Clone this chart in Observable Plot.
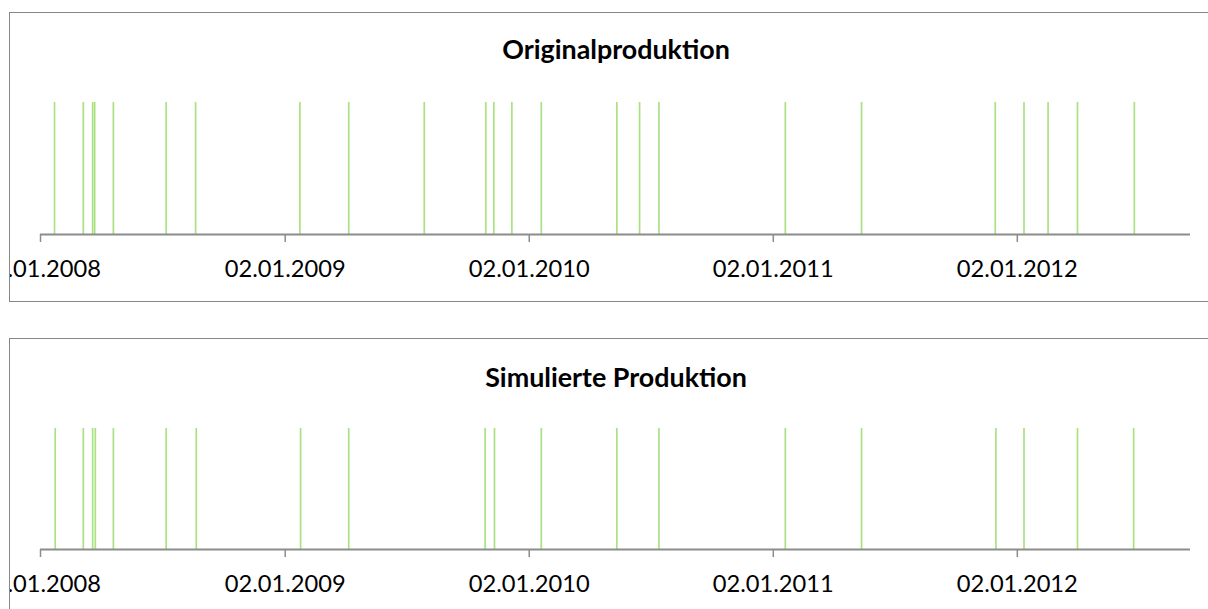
<!DOCTYPE html>
<html>
<head>
<meta charset="utf-8">
<script src="https://cdn.jsdelivr.net/npm/d3@7"></script>
<script src="https://cdn.jsdelivr.net/npm/@observablehq/plot@0.6"></script>
<style>
  html, body { margin: 0; padding: 0; background: #fff; width: 1208px; height: 609px; overflow: hidden; }
  .panel { position: absolute; left: 9px; width: 1230px; border: 1.5px solid #878787; box-sizing: border-box; overflow: hidden; background: #fff; }
  .panel svg { position: absolute; left: -10.5px; }
</style>
</head>
<body>
<script>
// ---- data ----
const titles = ["Originalproduktion", "Simulierte Produktion"];

const originalDates = [
  "2008-01-23", "2008-03-06", "2008-03-20", "2008-03-23", "2008-04-20",
  "2008-07-08", "2008-08-21", "2009-01-24", "2009-04-07", "2009-07-29",
  "2009-10-29", "2009-11-10", "2009-12-07", "2010-01-20", "2010-05-13",
  "2010-06-16", "2010-07-15", "2011-01-20", "2011-05-14", "2011-11-30",
  "2012-01-12", "2012-02-17", "2012-04-01", "2012-06-25"
];

const simulatedDates = [
  "2008-01-24", "2008-03-06", "2008-03-20", "2008-03-24", "2008-04-20",
  "2008-07-08", "2008-08-22", "2009-01-25", "2009-04-07", "2009-10-28",
  "2009-11-11", "2010-01-20", "2010-05-13", "2010-07-15", "2011-01-20",
  "2011-05-14", "2011-12-01", "2012-01-12", "2012-04-01", "2012-06-24"
];

const tickDates = ["2008-01-02", "2009-01-02", "2010-01-02", "2011-01-02", "2012-01-02"];
const domainDates = ["2008-01-02", "2012-09-17"];

// ---- helpers ----
const parse = d3.utcParse("%Y-%m-%d");
const FONT = "Lato, 'Open Sans', sans-serif";
const ctx = document.createElement("canvas").getContext("2d");
function fitSize(text, weight, target) {
  ctx.font = `${weight} 100px Lato`;
  return 100 * target / ctx.measureText(text).width;
}
const tickFont = fitSize("02.01.2009", "normal", 121);
const titleFont = (fitSize(titles[0], "bold", 224) + fitSize(titles[1], "bold", 266)) / 2;

const panels = [
  {title: titles[0], dates: originalDates, top: 12, height: 290, lineTop: 102, axisY: 234, titleY: 59},
  {title: titles[1], dates: simulatedDates, top: 338, height: 300, lineTop: 428, axisY: 549, titleY: 387}
];

for (const p of panels) {
  const div = document.createElement("div");
  div.className = "panel";
  div.style.top = p.top + "px";
  div.style.height = p.height + "px";
  document.body.appendChild(div);

  const data = p.dates.map(parse);
  const chart = Plot.plot({
    width: 1208,
    height: 609,
    marginLeft: 40,
    marginRight: 18,
    marginTop: p.lineTop,
    marginBottom: 609 - p.axisY,
    style: {fontFamily: FONT, color: "#000", background: "transparent", overflow: "visible"},
    x: {type: "utc", domain: domainDates.map(parse)},
    y: {domain: [0, 1], axis: null},
    marks: [
      Plot.ruleX(data, {x: d => d, y1: 0, y2: 1, stroke: "#a2de74", strokeWidth: 1.7, strokeOpacity: 0.9}),
      Plot.ruleY([0], {stroke: "#8c8c8c", strokeWidth: 2}),
      Plot.axisX({
        ticks: tickDates.map(parse),
        tickFormat: d3.utcFormat("%d.%m.%Y"),
        tickSize: 8,
        tickPadding: 18,
        fontSize: tickFont,
        stroke: "#8c8c8c",
        strokeWidth: 1.5,
        fill: "#000",
        label: null
      })
    ]
  });
  chart.style.top = (-(p.top + 1.5)) + "px";
  d3.select(chart).append("text")
    .attr("x", 616)
    .attr("y", p.titleY)
    .attr("text-anchor", "middle")
    .attr("font-weight", "bold")
    .attr("font-size", titleFont)
    .attr("font-family", FONT)
    .attr("fill", "#000")
    .text(p.title);
  div.appendChild(chart);
}
</script>
</body>
</html>
